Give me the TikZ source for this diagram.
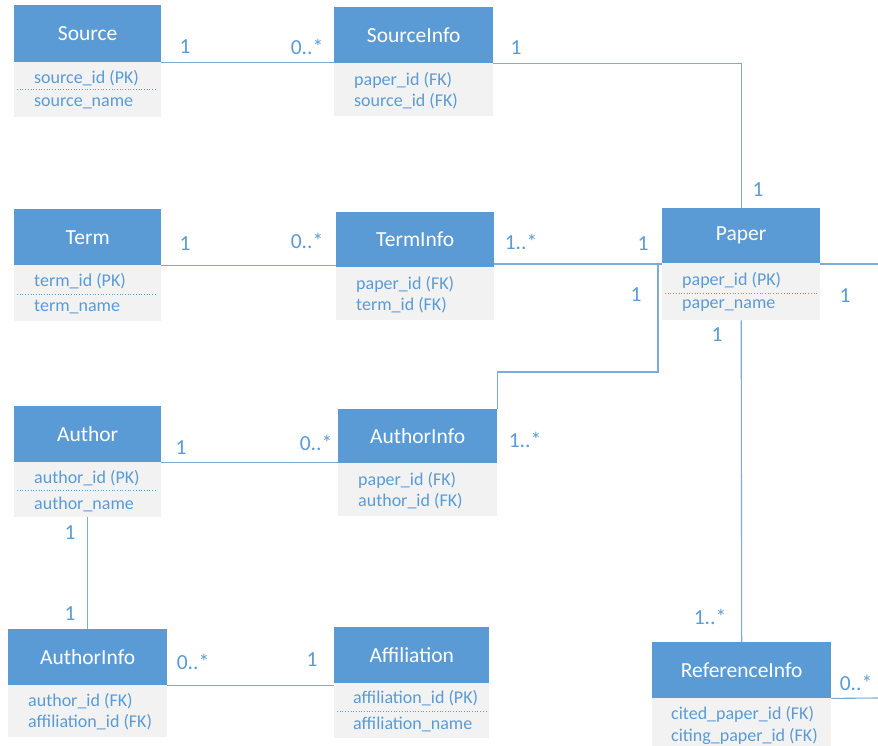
\documentclass[tikz,border=0pt]{standalone}
\usepackage{fontspec}
\setmainfont{Carlito}
\definecolor{hdrblue}{HTML}{5B9BD5}
\definecolor{bodygray}{HTML}{F2F2F2}
\definecolor{linkblue}{HTML}{7BAADB}
\definecolor{fieldblue}{HTML}{5B9BD5}
\tikzset{
  hdr/.style={draw=none, fill=hdrblue, anchor=north west, inner sep=0pt},
  ttl/.style={text=white, font=\fontsize{21.5}{23}\selectfont, inner sep=0pt},
  bdy/.style={draw=none, fill=bodygray, anchor=north west, inner sep=0pt},
  field/.style={text=fieldblue, font=\fontsize{18}{20}\selectfont, anchor=west, inner sep=0pt},
  sep/.style={draw=fieldblue, dotted, line width=0.7pt},
  link/.style={draw=linkblue, line width=1.1pt},
  mult/.style={text=fieldblue, font=\fontsize{21.5}{23}\selectfont, inner sep=0pt},
}
% entity box: name, left, top, right, header bottom, body bottom, title
\newcommand\erbox[7]{%
  \node[hdr, minimum width={#4-#2}, minimum height={#5-#3}] (#1H) at (#2,#3) {};
  \node[ttl] (#1T) at (#1H.center) {#7};
  \node[bdy, minimum width={#4-#2}, minimum height={#6-#5}] (#1B) at (#2,#5) {};
}
\begin{document}
\begin{tikzpicture}[x=1pt,y=-1pt]
\useasboundingbox (0,0) rectangle (878,746);

% entities
\erbox{src}{14}{5}{161}{62}{117}{Source}
\erbox{sinf}{334}{7}{493}{63}{116}{SourceInfo}
\erbox{term}{14}{209}{161}{265}{321}{Term}
\erbox{tinf}{336}{212}{494}{267}{320}{TermInfo}
\erbox{pap}{662}{208}{820}{263}{320}{Paper}
\erbox{auth}{14}{406}{161}{462}{517}{Author}
\erbox{ainf}{338}{409}{497}{463}{516}{AuthorInfo}
\erbox{aaff}{8}{629}{167}{685}{737}{AuthorInfo}
\erbox{aff}{334}{627}{489}{683}{738}{Affiliation}
\erbox{ref}{652}{642}{831}{698}{746}{ReferenceInfo}

% fields
\node[field] (f1) at (34,78) {source\_id (PK)};
\draw[sep] (17,89) -- (157,89);
\node[field] (f2) at (34,103) {source\_name};
\node[field] (f3) at (354,80) {paper\_id (FK)};
\node[field] (f4) at (354,101) {source\_id (FK)};

\node[field] (f5) at (34,281) {term\_id (PK)};
\draw[sep] (17,294) -- (157,294);
\node[field] (f6) at (34,307) {term\_name};
\node[field] (f7) at (356,284) {paper\_id (FK)};
\node[field] (f8) at (356,305) {term\_id (FK)};

\node[field] (f9) at (682,280) {paper\_id (PK)};
\draw[sep] (665,293) -- (817,293);
\node[field] (f10) at (682,306) {paper\_name};

\node[field] (f11) at (34,478) {author\_id (PK)};
\draw[sep] (17,490) -- (157,490);
\node[field] (f12) at (34,504) {author\_name};
\node[field] (f13) at (358,480) {paper\_id (FK)};
\node[field] (f14) at (358,501) {author\_id (FK)};

\node[field] (f15) at (28,701) {author\_id (FK)};
\node[field] (f16) at (28,722) {affiliation\_id (FK)};
\node[field] (f17) at (353,698) {affiliation\_id (PK)};
\draw[sep] (337,711) -- (486,711);
\node[field] (f18) at (353,724) {affiliation\_name};

\node[field] (f19) at (671,714) {cited\_paper\_id (FK)};
\node[field] (f20) at (671,736) {citing\_paper\_id (FK)};

% free ends and bends
\coordinate (papR) at (878,264);
\coordinate (refR) at (878,698);
\coordinate (jA) at (658,264);
\coordinate (jB) at (658,372);

% connectors
\draw[link] (srcH.south east) -- (srcH.south east -| sinfH.west);
\draw[link] (sinfH.south east) -| (papH.north);
\draw[link] (termH.south east) -- (termH.south east -| tinfH.west);
\draw[link] (tinfH.south east |- jA) -- (papH.west |- jA);
\draw[link] (papH.south east |- papR) -- (papR);
\draw[link] (jA) -- (jB) -| (ainfH.north east);
\draw[link] (papB.south) -- (refH.north);
\draw[link] (authH.south east) -- (authH.south east -| ainfH.west);
\draw[link] (authB.south) -- (aaffH.north -| authB.south);
\draw[link] (aaffH.south east) -- (aaffH.south east -| affH.west);
\draw[link] (refH.south east) -- (refR);

% multiplicities
\node[mult] (m1) at (185,47) {1};
\node[mult] (m2) at (307,47) {0..*};
\node[mult] (m3) at (516,48) {1};
\node[mult] (m4) at (758,190) {1};
\node[mult] (m5) at (185,244) {1};
\node[mult] (m6) at (307,241) {0..*};
\node[mult] (m7) at (521,242) {1..*};
\node[mult] (m8) at (643,244) {1};
\node[mult] (m9) at (636,295) {1};
\node[mult] (m10) at (845,296) {1};
\node[mult] (m11) at (717,335) {1};
\node[mult] (m12) at (181,448) {1};
\node[mult] (m13) at (316,443) {0..*};
\node[mult] (m14) at (525,440) {1..*};
\node[mult] (m15) at (70,533) {1};
\node[mult] (m16) at (70,614) {1};
\node[mult] (m17) at (193,662) {0..*};
\node[mult] (m18) at (312,660) {1};
\node[mult] (m19) at (710,617) {1..*};
\node[mult] (m20) at (856,683) {0..*};
\end{tikzpicture}
\end{document}
